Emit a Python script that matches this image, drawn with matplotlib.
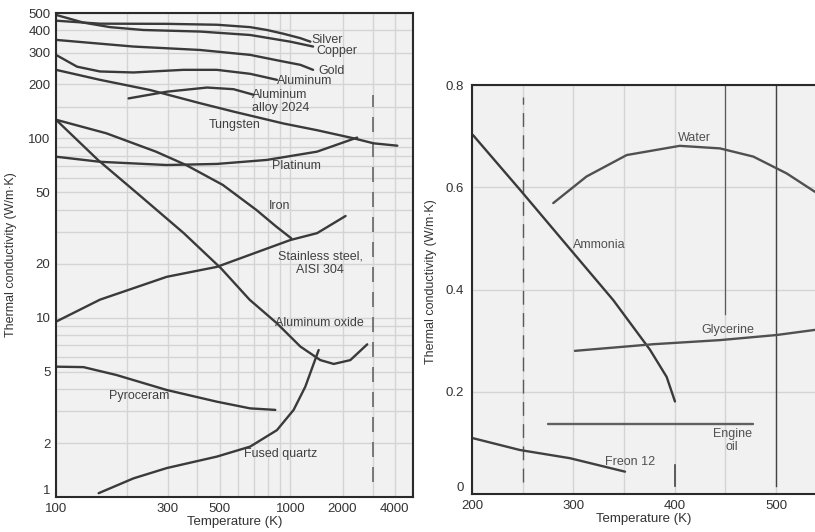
import numpy as np
import matplotlib
matplotlib.use("Agg")
import matplotlib.pyplot as plt

plt.rcParams['font.family'] = ['Liberation Sans', 'DejaVu Sans']

# ---------------- Left panel: solids ----------------
silver_T = [100, 154, 297, 486, 674, 795, 935, 1143, 1305]
silver_k = [453, 436, 435, 430, 417, 402, 383, 362, 346]
copper_T = [100, 131, 170, 236, 412, 674, 1000, 1353]
copper_k = [488, 442, 417, 402, 394, 377, 346, 325]
gold_T = [100, 214, 412, 674, 935, 1143, 1353]
gold_k = [354, 325, 311, 292, 268, 257, 241]
alum_T = [100, 123, 154, 214, 350, 486, 674, 877]
alum_k = [292, 251, 236, 233, 241, 241, 229, 212]
alloy_T = [204, 297, 441, 572, 697]
alloy_k = [167, 182, 192, 188, 175]
tung_T = [100, 154, 252, 412, 572, 935, 1427, 2323, 3023, 4140]
tung_k = [241, 212, 186, 157, 141, 121, 111, 100, 93.8, 91]
plat_T = [100, 154, 297, 486, 795, 1427, 2429]
plat_k = [79, 74, 71, 72, 75.8, 84.3, 101]
iron_T = [100, 164, 267, 359, 515, 716, 871, 1013]
iron_k = [127, 106.7, 84.3, 71, 55.0, 39.9, 32.2, 27.7]
alox_T = [100, 151, 231, 351, 507, 670, 877, 1143, 1490, 1780, 2219, 2777]
alox_k = [127, 75.8, 47.3, 29.6, 18.8, 12.6, 9.3, 6.9, 5.8, 5.52, 5.8, 7.1]
ss_T = [100, 154, 297, 486, 1000, 1427, 2083]
ss_k = [9.5, 12.6, 16.9, 19.2, 27.1, 29.6, 36.9]
pyro_T = [100, 131, 181, 297, 486, 674, 863]
pyro_k = [5.33, 5.3, 4.79, 3.95, 3.40, 3.12, 3.06]
quartz_T = [152, 214, 297, 486, 674, 877, 1045, 1220, 1457]
quartz_k = [1.05, 1.27, 1.45, 1.68, 1.91, 2.36, 3.06, 4.12, 6.6]

left_xticks = [100, 300, 500, 1000, 2000, 4000]
left_yticks = [1, 2, 5, 10, 20, 50, 100, 200, 300, 400, 500]

# ---------------- Right panel: fluids ----------------
ammonia_T = [201, 247.4, 293.4, 339.5, 375.7, 392.1, 400.3]
ammonia_k = [0.702, 0.595, 0.487, 0.379, 0.282, 0.229, 0.181]
water_T = [280.2, 313, 352.7, 405, 444.7, 477.6, 510.6, 538.5]
water_k = [0.569, 0.621, 0.663, 0.681, 0.676, 0.660, 0.627, 0.591]
glyc_T = [301.6, 379, 444.7, 500.7, 538.5]
glyc_k = [0.280, 0.293, 0.301, 0.311, 0.321]
oil_T = [275.3, 380, 477]
oil_k = [0.137, 0.137, 0.137]
freon_T = [201.3, 247.4, 296.7, 351]
freon_k = [0.109, 0.086, 0.070, 0.0437]

right_xticks = [200, 300, 400, 500]
right_yticks = [0, 0.2, 0.4, 0.6, 0.8]


# piecewise axis used by the left chart: log below 1000 K, compressed log above
def fwd(t):
    t = np.asarray(t, dtype=float)
    lt = np.log10(np.clip(t, 1e-9, None))
    return np.where(lt <= 3, lt, 3 + 0.74 * (lt - 3))


def inv(u):
    u = np.asarray(u, dtype=float)
    return np.where(u <= 3, 10.0 ** u, 10.0 ** (3 + (u - 3) / 0.74))


W, H = 815, 532
fig = plt.figure(figsize=(W / 100, H / 100), dpi=100)
fig.patch.set_facecolor('white')

BG = '#f1f1f1'
GRID = '#d4d4d4'
LINE = '#3a3a3a'
TXT = '#404040'
LAB = '#333333'

# ---------- left axes ----------
ax = fig.add_axes([56 / W, 35 / H, 357 / W, 484 / H])
ax.set_facecolor(BG)
ax.set_xscale('function', functions=(fwd, inv))
ax.set_yscale('log')
ax.set_xlim(100, 5100)
ax.set_ylim(1, 500)

ax.set_xticks(left_xticks)
ax.set_xticklabels([str(v) for v in left_xticks])
ax.set_xticks([200, 400, 600, 700, 800, 900, 3000, 5000], minor=True)
ax.set_yticks(left_yticks)
ax.set_yticklabels([str(v) for v in left_yticks])
ax.set_yticks([3, 4, 6, 7, 8, 9, 30, 40, 60, 70, 80, 90, 150], minor=True)
ax.yaxis.set_minor_formatter(matplotlib.ticker.NullFormatter())
ax.grid(which='both', color=GRID, lw=1.0)
ax.set_axisbelow(True)
ax.tick_params(which='both', length=0)
ax.tick_params(axis='y', pad=4, labelsize=9.5, labelcolor=LAB)
ax.tick_params(axis='x', pad=4, labelsize=9.5, labelcolor=LAB)
ax.get_yticklabels()[0].set_va('bottom')
for s in ax.spines.values():
    s.set_color('#2a2a2a')
    s.set_linewidth(1.5)
ax.set_xlabel('Temperature (K)', fontsize=9.5, color=LAB, labelpad=1)
ax.set_ylabel('Thermal conductivity (W/m\u00b7K)', fontsize=9, color=LAB)
ax.yaxis.set_label_coords((17.5 - 56) / 357, 0.5)

ax.axvline(3000, ymin=0.03, ymax=0.83, color='#666666', lw=1.2, dashes=(9, 6))

for T, k in [(silver_T, silver_k), (copper_T, copper_k), (gold_T, gold_k),
             (alum_T, alum_k), (alloy_T, alloy_k), (tung_T, tung_k),
             (plat_T, plat_k), (iron_T, iron_k), (alox_T, alox_k),
             (ss_T, ss_k), (pyro_T, pyro_k), (quartz_T, quartz_k)]:
    ax.plot(T, k, color=LINE, lw=1.7, solid_capstyle='round', solid_joinstyle='round')

fs = 9
ax.text(1322, 354, 'Silver', fontsize=fs, color=TXT, ha='left', va='center')
ax.text(1413, 307, 'Copper', fontsize=fs, color=TXT, ha='left', va='center')
ax.text(1451, 238, 'Gold', fontsize=fs, color=TXT, ha='left', va='center')
ax.text(879, 209, 'Aluminum', fontsize=fs, color=TXT, ha='left', va='center')
ax.text(689, 160, 'Aluminum\nalloy 2024', fontsize=fs, color=TXT, ha='left', va='center',
        linespacing=1.15)
ax.text(577, 119, 'Tungsten', fontsize=fs, color=TXT, ha='center', va='center')
ax.text(1083, 70.2, 'Platinum', fontsize=fs, color=TXT, ha='center', va='center')
ax.text(898, 42.0, 'Iron', fontsize=fs, color=TXT, ha='center', va='center')
ax.text(1490, 20.2, 'Stainless steel,\nAISI 304', fontsize=fs, color=TXT, ha='center',
        va='center', linespacing=1.15)
ax.text(1470, 9.34, 'Aluminum oxide', fontsize=fs, color=TXT, ha='center', va='center')
ax.text(226, 3.66, 'Pyroceram', fontsize=fs, color=TXT, ha='center', va='center')
ax.text(906, 1.74, 'Fused quartz', fontsize=fs, color=TXT, ha='center', va='center')

# ---------- right axes ----------
ax2 = fig.add_axes([472 / W, 38 / H, (W - 472) / W, 409 / H])
ax2.set_facecolor(BG)
ax2.set_xlim(200, 538.5)
ax2.set_ylim(0, 0.8)
ax2.set_xticks(right_xticks)
ax2.set_xticklabels([str(v) for v in right_xticks])
ax2.set_xticks([250, 350, 450], minor=True)
ax2.set_yticks(right_yticks)
ax2.set_yticklabels(['0', '0.2', '0.4', '0.6', '0.8'])
ax2.grid(which='both', color=GRID, lw=1.0)
ax2.set_axisbelow(True)
ax2.tick_params(which='both', length=0)
ax2.tick_params(axis='y', pad=6, labelsize=9.5, labelcolor=LAB)
ax2.tick_params(axis='x', pad=4, labelsize=9.5, labelcolor=LAB)
ax2.get_yticklabels()[0].set_va('bottom')
for s in ax2.spines.values():
    s.set_color('#2a2a2a')
    s.set_linewidth(1.5)
ax2.spines['right'].set_visible(False)
ax2.set_xlabel('Temperature (K)', fontsize=9.5, color=LAB, labelpad=1)
ax2.set_ylabel('Thermal conductivity (W/m\u00b7K)', fontsize=9, color=LAB)
ax2.yaxis.set_label_coords((437 - 472) / 343, 0.52)

ax2.axvline(250, ymin=0.03, ymax=0.97, color='#5a5a5a', lw=1.0, dashes=(10, 6))
ax2.axvline(450, ymin=0.44, ymax=1.0, color='#5a5a5a', lw=0.9)
ax2.axvline(500, ymin=0.02, ymax=1.0, color='#444444', lw=1.0)
ax2.axvline(400, ymin=0.02, ymax=0.07, color='#444444', lw=1.2)

ax2.plot(ammonia_T, ammonia_k, color='#3a3a3a', lw=1.7, solid_capstyle='round')
ax2.plot(water_T, water_k, color='#505050', lw=1.7, solid_capstyle='round')
ax2.plot(glyc_T, glyc_k, color='#505050', lw=1.7, solid_capstyle='round')
ax2.plot(oil_T, oil_k, color='#606060', lw=1.7, solid_capstyle='round')
ax2.plot(freon_T, freon_k, color='#404040', lw=1.7, solid_capstyle='round')

TXT2 = '#505050'
ax2.text(420, 0.696, 'Water', fontsize=fs, color=TXT2, ha='center', va='center')
ax2.text(325.3, 0.487, 'Ammonia', fontsize=fs, color=TXT2, ha='center', va='center')
ax2.text(452.6, 0.321, 'Glycerine', fontsize=fs, color=TXT2, ha='center', va='center')
ax2.text(456.6, 0.105, 'Engine\noil', fontsize=fs, color=TXT2, ha='center', va='center',
         linespacing=1.1)
ax2.text(355.9, 0.0626, 'Freon 12', fontsize=fs, color=TXT2, ha='center', va='center')

fig.savefig('out.png', dpi=100)
